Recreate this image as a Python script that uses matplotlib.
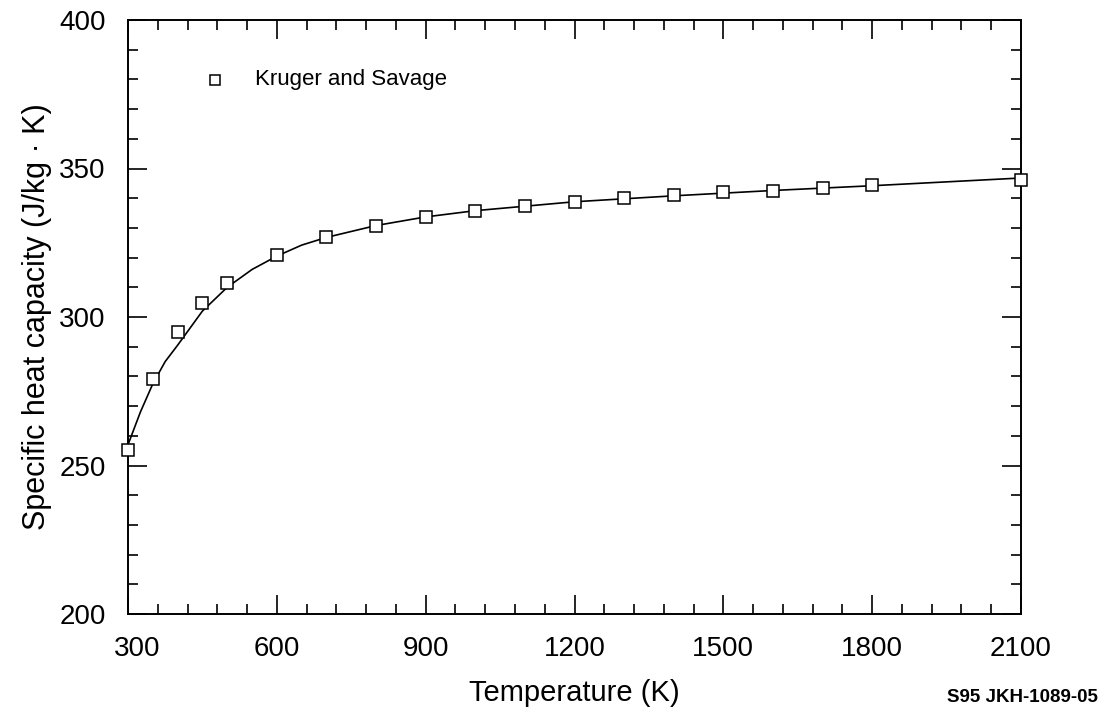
import matplotlib
matplotlib.use("Agg")
import matplotlib.pyplot as plt
import matplotlib.transforms as mtransforms
from matplotlib.ticker import MultipleLocator

plt.rcParams['font.family'] = ['Liberation Sans', 'DejaVu Sans']

# Kruger and Savage data points
temp_pts = [300, 350, 400, 450, 500, 600, 700, 800, 900, 1000, 1100, 1200,
            1300, 1400, 1500, 1600, 1700, 1800, 2100]
cp_pts = [255.1, 279.1, 294.8, 304.8, 311.4, 320.9, 327.0, 330.7, 333.8, 335.8,
          337.5, 338.7, 340.0, 341.0, 342.0, 342.5, 343.5, 344.5, 346.2]

# Correlation curve
temp_curve = [300, 325, 350, 375, 400, 450, 500, 550, 600, 650, 700, 800, 900,
              1000, 1200, 1400, 1600, 1800, 2100]
cp_curve = [257.0, 268.0, 277.5, 285.0, 290.5, 302.0, 310.0, 316.0, 320.5, 324.2,
            326.8, 330.8, 333.7, 335.8, 338.8, 340.8, 342.6, 344.2, 346.8]

x_ticks = [300, 600, 900, 1200, 1500, 1800, 2100]
y_ticks = [200, 250, 300, 350, 400]
legend_label = 'Kruger and Savage'

fig = plt.figure(figsize=(11.08, 7.10), dpi=100)
ax = fig.add_axes([128/1108, 1-614/710, (1021-128)/1108, (614-20)/710])

ax.plot(temp_curve, cp_curve, color='black', lw=1.2, zorder=2)
ax.plot(temp_pts, cp_pts, linestyle='none', marker='s', markersize=9,
        markerfacecolor='white', markeredgecolor='black', markeredgewidth=1.1,
        zorder=3, clip_on=False)

ax.set_xlim(300, 2100)
ax.set_ylim(200, 400)
ax.set_xticks(x_ticks)
ax.set_yticks(y_ticks)
ax.xaxis.set_minor_locator(MultipleLocator(60))
ax.yaxis.set_minor_locator(MultipleLocator(10))
ax.tick_params(which='both', direction='in', top=True, right=True,
               labelsize=20, width=1.2, color='black')
ax.tick_params(which='major', length=14, pad=16)
ax.tick_params(which='minor', length=7)
for s in ax.spines.values():
    s.set_linewidth(1.4)

# first x tick label sits slightly right of the axis corner
first = ax.get_xticklabels()[0]
first.set_transform(first.get_transform() +
                    mtransforms.ScaledTranslation(9/100, 0, fig.dpi_scale_trans))

ax.set_xlabel('Temperature (K)', fontsize=21, labelpad=12)
ax.set_ylabel('Specific heat capacity (J/kg · K)', fontsize=22, labelpad=5)

# legend entry
ly = 1 - 60/594
ax.plot([(215-128)/893], [ly], transform=ax.transAxes, linestyle='none',
        marker='s', markersize=7, markerfacecolor='white',
        markeredgecolor='black', markeredgewidth=1.1)
ax.text((255-128)/893, ly, legend_label, transform=ax.transAxes,
        ha='left', va='center', fontsize=16)

fig.text(1098/1108, 1-698/710, 'S95 JKH-1089-05', ha='right', va='center',
         fontsize=13.5, fontweight='bold')

fig.savefig('out.png', dpi=100)
